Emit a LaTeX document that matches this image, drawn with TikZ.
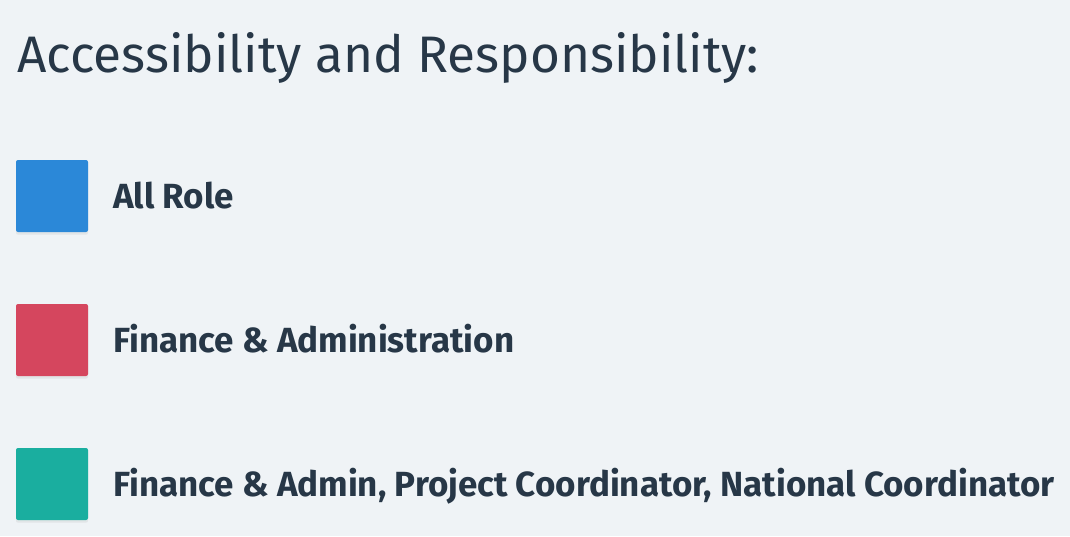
\documentclass[tikz,border=0pt]{standalone}
\usepackage{fontspec}
\setmainfont{Fira Sans}
\usetikzlibrary{shadows}
\definecolor{pagebg}{HTML}{EFF3F6}
\definecolor{inkcol}{HTML}{273747}
\definecolor{allrole}{HTML}{2B88D8}
\definecolor{finadmin}{HTML}{D5465E}
\definecolor{coordcol}{HTML}{1AAE9F}

\begin{document}
\begin{tikzpicture}[x=0.75pt, y=-0.75pt,
	swatch/.style={rectangle, rounded corners=1.5pt, inner sep=0pt,
		minimum width=54pt, minimum height=54pt,
		drop shadow={opacity=0.12, shadow xshift=0pt, shadow yshift=-2pt}},
	label/.style={anchor=base west, inner sep=0pt, text=inkcol,
		font=\fontsize{26.2}{30}\selectfont\bfseries}]
				\fill[pagebg] (0,0) rectangle (1070,536);
				\useasboundingbox (0,0) rectangle (1070,536);
				\node[anchor=base west, inner sep=0pt, text=inkcol,
				font=\fontsize{38.5}{46}\selectfont] (title) at(17,72){Accessibility and Responsibility:};
				\node[swatch, fill=allrole] (1) at(52,196){};
				\node[swatch, fill=finadmin] (2) at(52,340){};
				\node[swatch, fill=coordcol] (3) at(52,484){};
				\node[label] (1t) at(113,208){All Role};
				\node[label] (2t) at(113,352){Finance \& Administration};
				\node[label] (3t) at(113,496){Finance \& Admin, Project Coordinator, National Coordinator};
			\end{tikzpicture}
\end{document}
